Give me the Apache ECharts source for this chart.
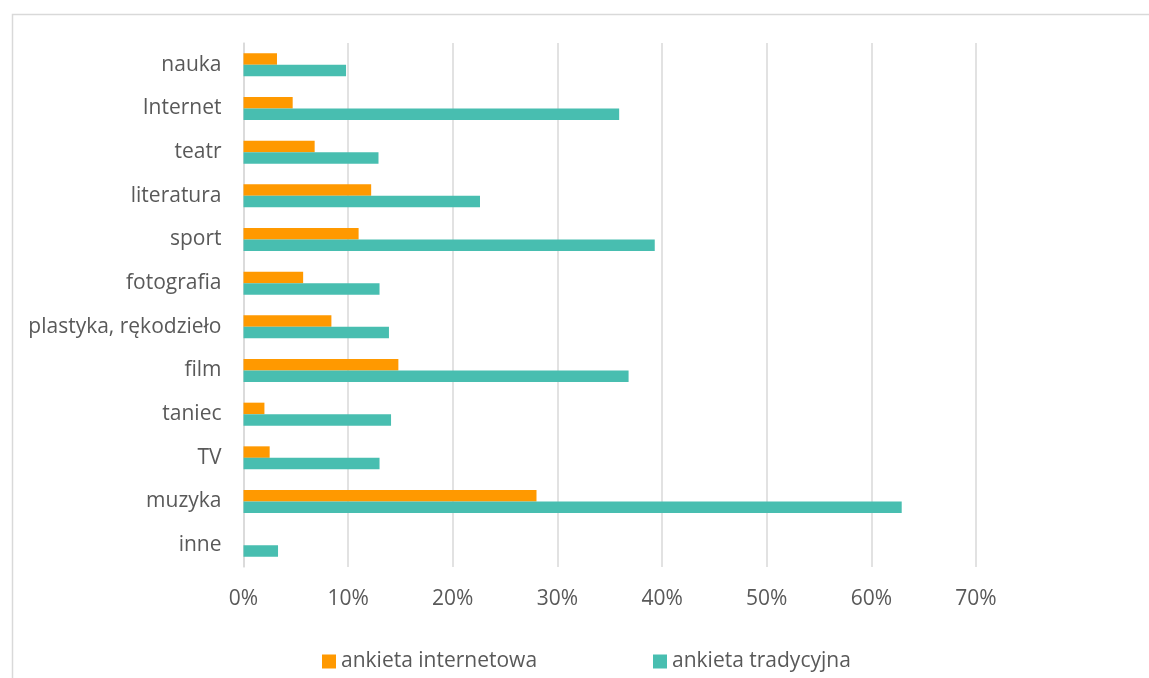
<!DOCTYPE html>
<html>
<head>
<meta charset="utf-8">
<script src="https://cdn.jsdelivr.net/npm/echarts@6/dist/echarts.min.js"></script>
<style>
html,body{margin:0;padding:0;background:#fff;}
#c{width:1149px;height:678px;}
</style>
</head>
<body>
<div id="c"></div>
<script>
// categories listed top to bottom
const categories = ['nauka','Internet','teatr','literatura','sport','fotografia','plastyka, rękodzieło','film','taniec','TV','muzyka','inne'];
const internetowa = [3.2, 4.7, 6.8, 12.2, 11.0, 5.7, 8.4, 14.8, 2.0, 2.5, 28.0, 0];
const tradycyjna = [9.8, 35.9, 12.9, 22.6, 39.3, 13.0, 13.9, 36.8, 14.1, 13.0, 62.9, 3.3];
const seriesNames = ['ankieta internetowa', 'ankieta tradycyjna'];
const xTicks = [0, 10, 20, 30, 40, 50, 60, 70];

const FONT = 'Open Sans';
const TXT = '#595959';
const chart = echarts.init(document.getElementById('c'));
chart.setOption({
  animation: false,
  graphic: [{
    type: 'rect', left: 10, top: 12, silent: true,
    shape: {width: 1200, height: 700},
    style: {fill: 'none', stroke: '#d9d9d9', lineWidth: 1.5}
  }],
  grid: {left: 243.5, right: 173, top: 43, bottom: 111, containLabel: false},
  legend: [{
    data: [seriesNames[0]], left: 322, top: 651, padding: 0, itemWidth: 14, itemHeight: 14,
    icon: 'rect', textStyle: {fontFamily: FONT, fontSize: 21, color: TXT}
  }, {
    data: [seriesNames[1]], left: 653, top: 651, padding: 0, itemWidth: 14, itemHeight: 14,
    icon: 'rect', textStyle: {fontFamily: FONT, fontSize: 21, color: TXT}
  }],
  xAxis: {
    type: 'value', min: xTicks[0], max: xTicks[xTicks.length - 1], interval: 10,
    axisLine: {show: false}, axisTick: {show: false},
    splitLine: {show: true, lineStyle: {color: '#d9d9d9', width: 1.5}},
    axisLabel: {formatter: '{value}%', fontFamily: FONT, fontSize: 21, color: TXT, margin: 22}
  },
  yAxis: {
    type: 'category', data: categories, inverse: true,
    axisLine: {show: true, lineStyle: {color: '#d9d9d9', width: 1.5}},
    axisTick: {show: false},
    axisLabel: {fontFamily: FONT, fontSize: 21, color: TXT, margin: 22}
  },
  series: [{
    name: seriesNames[0], type: 'bar', data: internetowa, barWidth: 11.5, barGap: '0%',
    itemStyle: {color: '#FF9900'}
  }, {
    name: seriesNames[1], type: 'bar', data: tradycyjna, barWidth: 11.5, barGap: '0%',
    itemStyle: {color: '#48BEB0'}
  }]
});
</script>
</body>
</html>
